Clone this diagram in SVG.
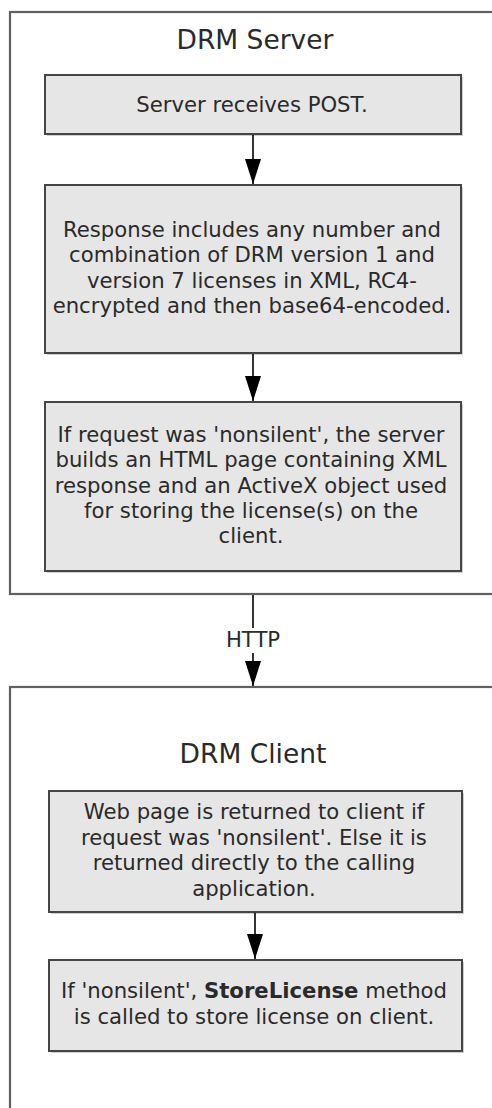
<svg xmlns="http://www.w3.org/2000/svg" width="492" height="1108" viewBox="0 0 492 1108">
<style>
.container{fill:#ffffff;stroke:#606060;stroke-width:2.2}
.box{fill:#e6e6e6;stroke:#454545;stroke-width:2}
.shadow{fill:#cfcfcf}
text{font-family:"DejaVu Sans","Verdana",sans-serif;fill:#2a2a2a;text-anchor:middle}
.title{font-size:26.5px}
.body{font-size:21.2px}
.conn{stroke:#000;stroke-width:1.6;fill:none}
</style>
<defs>
<marker id="arrow" markerUnits="userSpaceOnUse" markerWidth="25" markerHeight="16" refX="25" refY="8" orient="auto" viewBox="0 0 25 16">
<path d="M0,0 L25,8 L0,16 z" fill="#000"/>
</marker>
</defs>
<rect width="492" height="1108" fill="#ffffff"/>
<g id="drm-server">
<rect class="container" x="10" y="12" width="500" height="582"/>
<text class="title" x="255" y="48.5">DRM Server</text>
</g>
<g id="drm-client">
<rect class="container" x="10" y="687" width="500" height="500"/>
<text class="title" x="253" y="762.5">DRM Client</text>
</g>
<g id="server-receives">
<rect class="shadow" x="47" y="77" width="416" height="59"/>
<rect class="box" x="45" y="75" width="416" height="59"/>
<text class="body" x="252" y="112">Server receives POST.</text>
</g>
<g id="response-includes">
<rect class="shadow" x="47" y="187" width="416" height="168"/>
<rect class="box" x="45" y="185" width="416" height="168"/>
<text class="body" x="252" y="236.7">Response includes any number and</text>
<text class="body" x="252" y="262.1">combination of DRM version 1 and</text>
<text class="body" x="252" y="287.5">version 7 licenses in XML, RC4-</text>
<text class="body" x="252" y="312.9">encrypted and then base64-encoded.</text>
</g>
<g id="nonsilent-page">
<rect class="shadow" x="47" y="404" width="416" height="169"/>
<rect class="box" x="45" y="402" width="416" height="169"/>
<text class="body" x="251" y="441.7">If request was 'nonsilent', the server</text>
<text class="body" x="251" y="467.1">builds an HTML page containing XML</text>
<text class="body" x="251" y="492.5">response and an ActiveX object used</text>
<text class="body" x="251" y="517.9">for storing the license(s) on the</text>
<text class="body" x="251" y="543.3">client.</text>
</g>
<g id="web-page-returned">
<rect class="shadow" x="51" y="793" width="413" height="121"/>
<rect class="box" x="49" y="791" width="413" height="121"/>
<text class="body" x="254" y="819.3">Web page is returned to client if</text>
<text class="body" x="254" y="844.7">request was 'nonsilent'. Else it is</text>
<text class="body" x="254" y="870.1">returned directly to the calling</text>
<text class="body" x="254" y="895.5">application.</text>
</g>
<g id="store-license">
<rect class="shadow" x="51" y="962" width="413" height="91"/>
<rect class="box" x="49" y="960" width="413" height="91"/>
<text class="body" x="254" y="998.3">If 'nonsilent', <tspan font-weight="bold">StoreLicense</tspan> method</text>
<text class="body" x="254" y="1023.7">is called to store license on client.</text>
</g>
<g id="connectors">
<line class="conn" x1="253" y1="135" x2="253" y2="184" marker-end="url(#arrow)"/>
<line class="conn" x1="253" y1="354" x2="253" y2="401" marker-end="url(#arrow)"/>
<line class="conn" x1="253" y1="595" x2="253" y2="628"/>
<line class="conn" x1="253" y1="653" x2="253" y2="686" marker-end="url(#arrow)"/>
<text class="body" x="253" y="647">HTTP</text>
<line class="conn" x1="255" y1="913" x2="255" y2="959" marker-end="url(#arrow)"/>
</g>
</svg>
